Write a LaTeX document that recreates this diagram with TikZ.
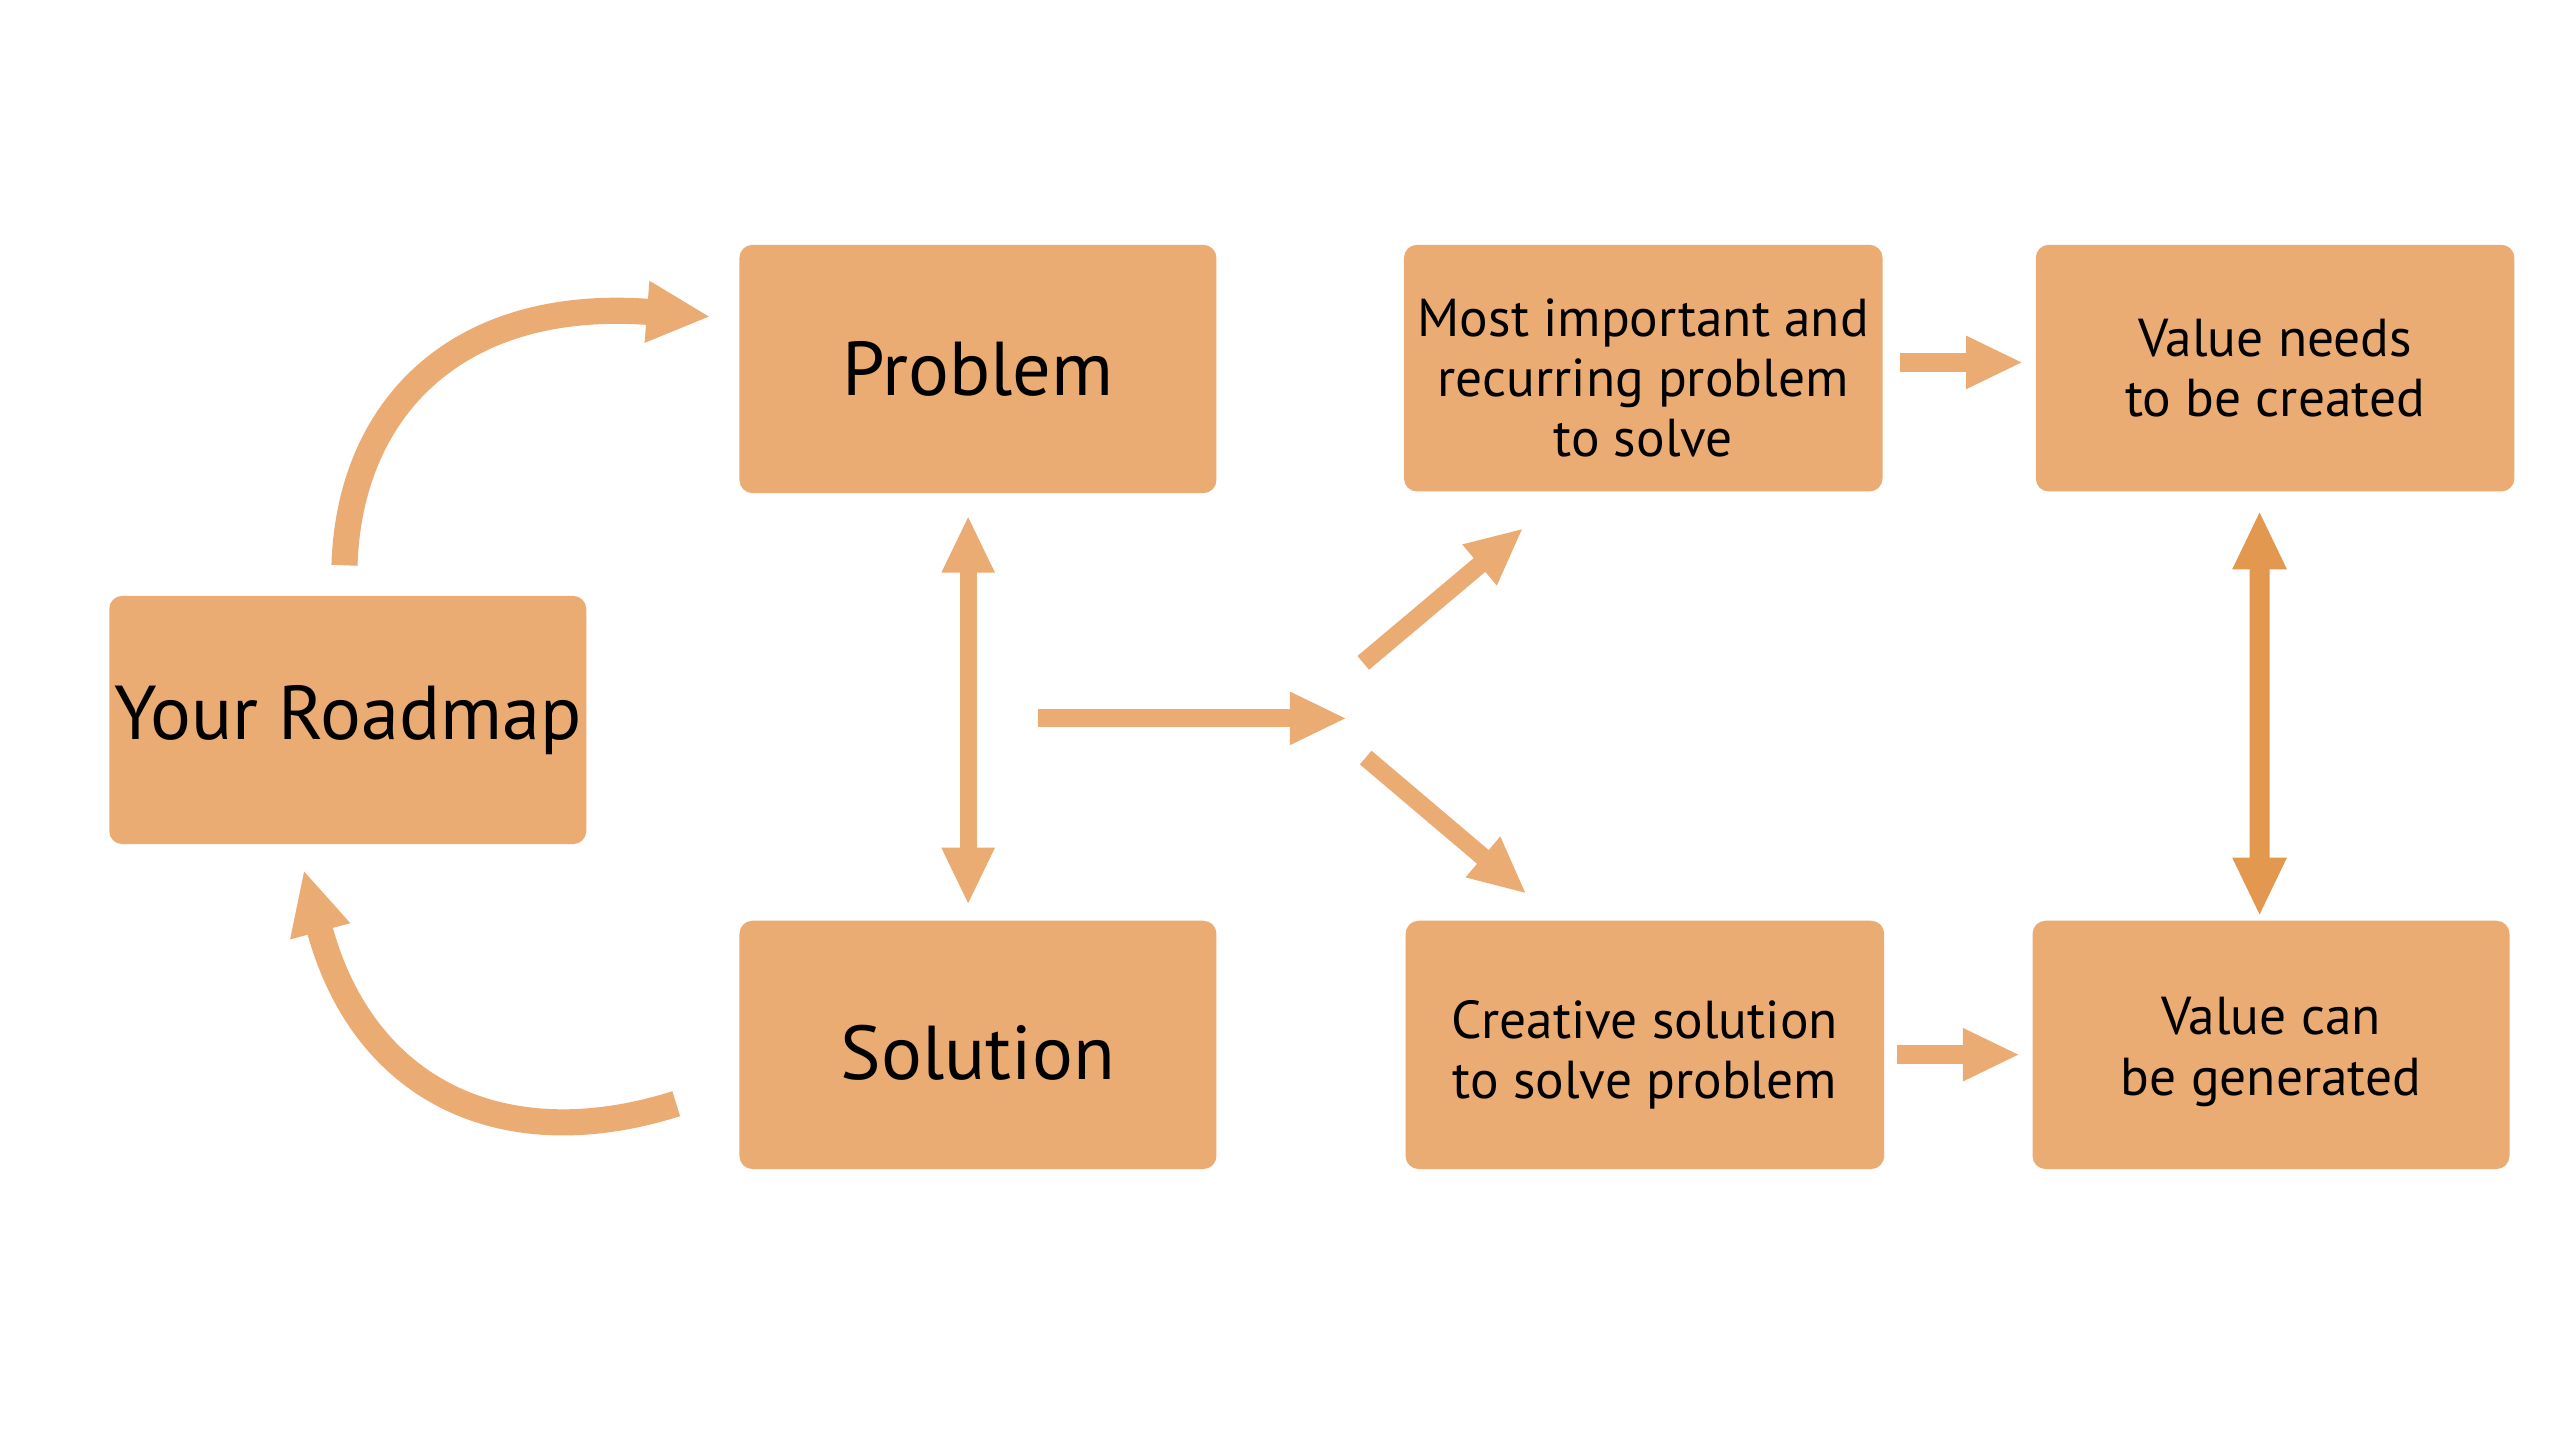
\documentclass[tikz,border=0pt]{standalone}
\usepackage{fontspec}
\setmainfont{PT Sans}
\usetikzlibrary{arrows.meta}
\definecolor{boxc}{HTML}{EAAC72}
\definecolor{arrc}{HTML}{EAAC72}
\definecolor{darkarr}{HTML}{E3984F}
\begin{document}
\begin{tikzpicture}[x=0.01cm,y=-0.01cm,
  box/.style={rectangle, rounded corners=0.08cm, fill=boxc, minimum width=2.92cm, minimum height=1.52cm, inner sep=0pt, align=center, text=black},
  bigtxt/.style={font=\fontsize{13.3}{16}\selectfont},
  smalltxt/.style={font=\fontsize{9.3}{10.5}\selectfont},
  sarrow/.style={draw=arrc, line width=0.11cm, -{Triangle[width=0.30cm,length=0.35cm]}},
  darrow/.style={draw=arrc, line width=0.105cm, {Triangle[width=0.30cm,length=0.35cm]}-{Triangle[width=0.30cm,length=0.35cm]}},
  dkarrow/.style={draw=darkarr, line width=0.122cm, {Triangle[width=0.306cm,length=0.36cm]}-{Triangle[width=0.306cm,length=0.36cm]}},
  curvy/.style={draw=arrc, line width=0.16cm, line cap=butt, -{Triangle[width=0.35cm,length=0.39cm]}}
]
\fill[white] (0,0) rectangle (1568,882);
\useasboundingbox (0,0) rectangle (1568,882);

\node[box,bigtxt] (prob) at (599,226) {Problem};
\node[box,bigtxt] (rm) at (213,441) {Your Roadmap};
\node[box,bigtxt] (sol) at (599,640) {\rule{0pt}{12.3pt}Solution};
\node[box,smalltxt,minimum width=2.93cm,minimum height=1.51cm] (most) at (1006.5,225.5) {\rule{0pt}{10pt}Most important and\\recurring problem\\to solve};
\node[box,smalltxt,minimum width=2.93cm,minimum height=1.51cm] (vn) at (1393.5,225.5) {Value needs\\to be created};
\node[box,smalltxt,minimum width=2.93cm] (cre) at (1007.5,640) {\rule{0pt}{10pt}Creative solution\\to solve problem};
\node[box,smalltxt] (vc) at (1391,640) {\rule{0pt}{9pt}Value can\\be generated};

% curved arrows
\draw[curvy] ([xshift=-0.02cm,yshift=0.18cm]rm.north) .. controls (214,250) and (280,182) .. ([xshift=-0.17cm,yshift=0.32cm]prob.west);
\draw[curvy] ([xshift=-0.38cm,yshift=-0.36cm]sol.west) .. controls (310,709) and (223,670) .. ([xshift=-0.27cm,yshift=-0.15cm]rm.south);

% problem <-> solution
\draw[darrow, shorten <=0.13cm, shorten >=0.09cm] ([xshift=-0.06cm]prob.south) -- ([xshift=-0.06cm]sol.north);

% branching arrows
\coordinate (hs) at (636,440);
\coordinate (hub) at (825,440);
\draw[sarrow] (hs) -- (hub);
\coordinate (u0) at (835,406);
\coordinate (u1) at (933,323.5);
\draw[sarrow] (u0) -- (u1);
\coordinate (d0) at (836.5,464);
\coordinate (d1) at (935,547.5);
\draw[sarrow] (d0) -- (d1);

% right arrows
\draw[sarrow, line width=0.12cm, shorten <=0.10cm, shorten >=0.07cm] ([yshift=0.035cm]most.east) -- ([yshift=0.035cm]vn.west);
\draw[sarrow, line width=0.12cm, shorten <=0.07cm, shorten >=0.07cm] ([yshift=-0.06cm]cre.east) -- ([yshift=-0.06cm]vc.west);

% value <-> value
\draw[dkarrow, shorten <=0.11cm, shorten >=0.02cm] ([xshift=-0.095cm]vn.south) -- ([xshift=-0.07cm]vc.north);
\end{tikzpicture}
\end{document}
